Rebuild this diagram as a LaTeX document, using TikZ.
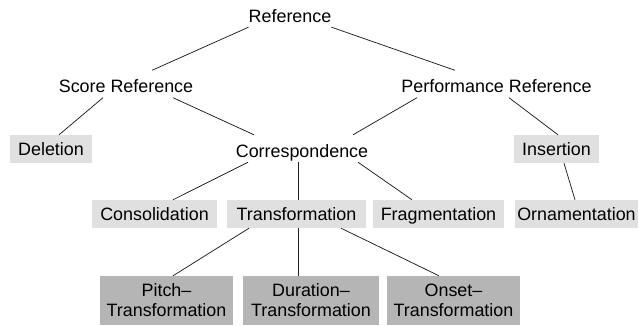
\documentclass[tikz,border=0pt]{standalone}
\usepackage{fontspec}
\setmainfont{Liberation Sans}
\definecolor{lightbox}{RGB}{224,224,224}
\definecolor{darkbox}{RGB}{181,181,181}
\definecolor{edgecol}{RGB}{30,30,30}
\begin{document}
\begin{tikzpicture}[x=1pt,y=-1pt,
  every node/.style={font=\fontsize{17.9pt}{20pt}\selectfont},
  txt/.style={inner sep=0pt, text height=22pt, text depth=5pt, anchor=base},
  lbox/.style={fill=lightbox, inner sep=0pt, minimum height=28pt, text depth=0pt},
  dbox/.style={fill=darkbox, inner sep=0pt, minimum height=49pt, align=center, minimum width=133pt},
  edge/.style={draw=edgecol, line width=0.75pt}]
\useasboundingbox (0,0) rectangle (639,325);
% text nodes
\node[txt] (ref) at (290,22) {Reference};
\node[txt] (sr) at (126,92.5) {Score Reference};
\node[txt] (pr) at (496.5,92.5) {Performance Reference};
\node[txt] (cor) at (302,157) {Correspondence};
% light boxes
\node[lbox, minimum width=82pt] (del) at (51,149) {Deletion};
\node[lbox, minimum width=85pt] (ins) at (556.5,149) {Insertion};
\node[lbox, minimum width=125pt] (con) at (154.5,214) {Consolidation};
\node[lbox, minimum width=139pt] (tra) at (296.5,214) {Transformation};
\node[lbox, minimum width=131pt] (fra) at (438.5,214) {Fragmentation};
\node[lbox, minimum width=123pt] (orn) at (576.5,214) {Ornamentation};
% dark boxes
\node[dbox] (pit) at (166.5,300.5) {Pitch–\\Transformation};
\node[dbox, minimum width=136pt] (dur) at (311,300.5) {Duration–\\Transformation};
\node[dbox] (ons) at (453.5,300.5) {Onset–\\Transformation};
% connectors
\draw[edge] (ref.south west) -- ([xshift=26pt]sr.north);
\draw[edge] (ref.south east) -- ([xshift=-41.5pt]pr.north);
\draw[edge] ([xshift=-23pt]sr.south) -- ([xshift=8pt]del.north);
\draw[edge] ([xshift=47pt]sr.south) -- ([xshift=-48pt]cor.north);
\draw[edge] ([xshift=-79.5pt]pr.south) -- ([xshift=51pt]cor.north);
\draw[edge] ([xshift=12.5pt]pr.south) -- ([xshift=1.5pt]ins.north);
\draw[edge] ([xshift=-54pt]cor.south) -- ([xshift=18.5pt]con.north);
\draw[edge] ([xshift=-4pt]cor.south) -- ([xshift=1.5pt]tra.north);
\draw[edge] ([xshift=56pt]cor.south) -- ([xshift=-26.5pt]fra.north);
\draw[edge] ([xshift=7.5pt]ins.south) -- ([xshift=-1.5pt]orn.north);
\draw[edge] ([xshift=-47.5pt]tra.south) -- ([xshift=6.5pt]pit.north);
\draw[edge] ([xshift=1.5pt]tra.south) -- ([xshift=-13pt]dur.north);
\draw[edge] ([xshift=44.5pt]tra.south) -- ([xshift=-14.5pt]ons.north);
\end{tikzpicture}
\end{document}
